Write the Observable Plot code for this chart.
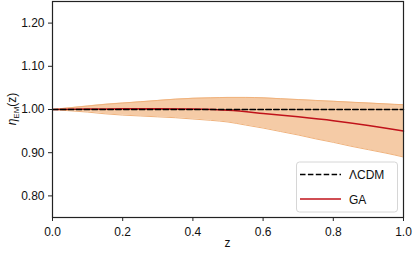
<!DOCTYPE html>
<html>
<head>
<meta charset="utf-8">
<script src="https://cdn.jsdelivr.net/npm/d3@7"></script>
<script src="https://cdn.jsdelivr.net/npm/@observablehq/plot@0.6"></script>
<style>
  html, body { margin: 0; padding: 0; background: #fff; }
  #chart { width: 413px; height: 258px; }
</style>
</head>
<body>
<div id="chart"></div>
<script>
// Redshift grid
const zBand = [0, 0.05, 0.1, 0.15, 0.2, 0.25, 0.3, 0.35, 0.4, 0.45, 0.5, 0.55, 0.6, 0.65, 0.7, 0.75, 0.8, 0.85, 0.9, 0.95, 1.0];
// Uncertainty band (upper / lower)
const bandUpper = [1.000, 1.004, 1.008, 1.012, 1.015, 1.018, 1.021, 1.024, 1.026, 1.027, 1.028, 1.028, 1.027, 1.025, 1.023, 1.021, 1.019, 1.017, 1.015, 1.013, 1.011];
const bandLower = [1.000, 0.997, 0.994, 0.990, 0.987, 0.985, 0.983, 0.981, 0.978, 0.975, 0.971, 0.964, 0.957, 0.949, 0.941, 0.932, 0.924, 0.915, 0.907, 0.899, 0.890];
// GA curve
const zGA = [0, 0.1, 0.2, 0.3, 0.4, 0.5, 0.6, 0.7, 0.8, 0.9, 1.0];
const etaGA = [1.000, 1.001, 1.002, 1.002, 1.001, 0.998, 0.991, 0.983, 0.974, 0.963, 0.950];
// LCDM
const zLCDM = [0, 1];
const etaLCDM = [1.0, 1.0];
// Ticks
const xTicks = [0, 0.2, 0.4, 0.6, 0.8, 1.0];
const yTicks = [0.8, 0.9, 1.0, 1.1, 1.2];
const legendLabels = ["ΛCDM", "GA"];

const band = zBand.map((z, i) => ({z, lo: bandLower[i], hi: bandUpper[i]}));
const ga = zGA.map((z, i) => ({z, v: etaGA[i]}));
const lcdm = zLCDM.map((z, i) => ({z, v: etaLCDM[i]}));

const font = "Liberation Sans, Arial, sans-serif";
const bandFill = "#f5cba6";
const bandEdge = "#f0b27c";
const red = "#c0121a";

const plot = Plot.plot({
  width: 413,
  height: 258,
  marginLeft: 52,
  marginRight: 10,
  marginTop: 1,
  marginBottom: 41,
  style: {fontFamily: font, fontSize: "12px", color: "#222", background: "#fff"},
  x: {domain: [0, 1]},
  y: {domain: [0.75, 1.25]},
  marks: [
    Plot.areaY(band, {x: "z", y1: "lo", y2: "hi", fill: bandFill, curve: "monotone-x"}),
    Plot.lineY(band, {x: "z", y: "hi", stroke: bandEdge, strokeWidth: 1, curve: "monotone-x"}),
    Plot.lineY(band, {x: "z", y: "lo", stroke: bandEdge, strokeWidth: 1, curve: "monotone-x"}),
    Plot.lineY(ga, {x: "z", y: "v", stroke: red, strokeWidth: 1.5, curve: "monotone-x"}),
    Plot.lineY(lcdm, {x: "z", y: "v", stroke: "#000", strokeWidth: 1.5, strokeDasharray: "5.5,2.4"}),
    Plot.axisX({ticks: xTicks, tickFormat: d3.format(".1f"), tickSize: 4, tickPadding: 6, fontSize: 12, stroke: "#222", color: "#111", label: null}),
    Plot.axisY({ticks: yTicks, tickFormat: d3.format(".2f"), tickSize: 4, tickPadding: 4, fontSize: 12, stroke: "#222", color: "#111", label: null}),
    Plot.frame({stroke: "#222", strokeWidth: 1.2})
  ]
});
document.getElementById("chart").appendChild(plot);

const svg = d3.select(plot);
// x label
svg.append("text").attr("x", 227.5).attr("y", 247).attr("text-anchor", "middle")
  .attr("font-family", font).attr("font-size", 12).attr("fill", "#111").text("z");
// y label
const yl = svg.append("text").attr("transform", "translate(16,109) rotate(-90)")
  .attr("text-anchor", "middle").attr("font-family", font).attr("font-size", 12).attr("fill", "#111");
yl.append("tspan").attr("font-style", "italic").text("η");
yl.append("tspan").attr("font-size", 8).attr("dy", 3).text("EM");
yl.append("tspan").attr("dy", -3).text("(z)");

// legend
const lg = svg.append("g").attr("text-anchor", "start");
lg.append("rect").attr("x", 296.5).attr("y", 162).attr("width", 101).attr("height", 50)
  .attr("rx", 3).attr("fill", "#fff").attr("fill-opacity", 0.8).attr("stroke", "#d6d6d6");
lg.append("line").attr("x1", 300).attr("x2", 341).attr("y1", 174.5).attr("y2", 174.5)
  .attr("stroke", "#000").attr("stroke-width", 1.5).attr("stroke-dasharray", "5.5,2.4");
lg.append("line").attr("x1", 300).attr("x2", 341).attr("y1", 199).attr("y2", 199)
  .attr("stroke", red).attr("stroke-width", 1.5);
lg.append("text").attr("x", 349).attr("y", 179).attr("font-family", font).attr("font-size", 12)
  .attr("text-anchor", "start").attr("fill", "#111").text(legendLabels[0]);
lg.append("text").attr("x", 349).attr("y", 203.5).attr("font-family", font).attr("font-size", 12)
  .attr("text-anchor", "start").attr("fill", "#111").text(legendLabels[1]);
</script>
</body>
</html>
